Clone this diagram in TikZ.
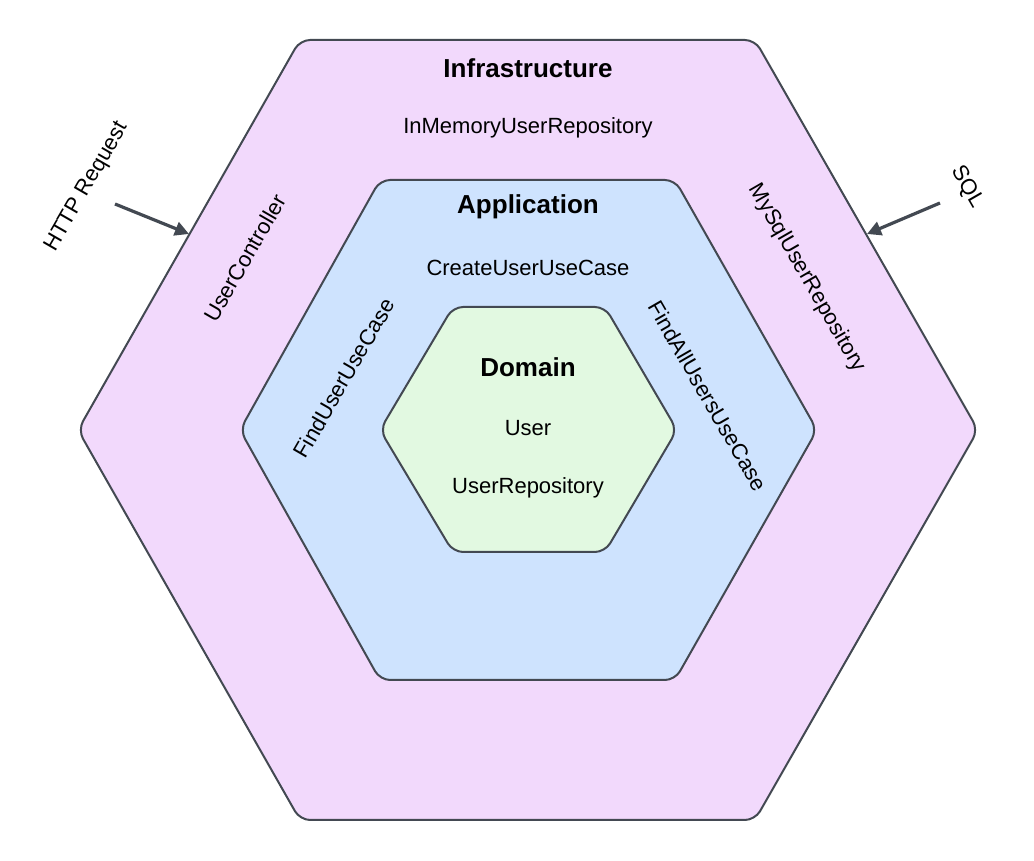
\documentclass[tikz,border=0pt]{standalone}
\usepackage{fontspec}
\setmainfont{Liberation Sans}
\usetikzlibrary{arrows.meta}
\definecolor{infra}{HTML}{F2D9FC}
\definecolor{appl}{HTML}{CEE3FE}
\definecolor{dom}{HTML}{E2F9E1}
\definecolor{edge}{HTML}{434952}
\tikzset{
  hexa/.style={draw=edge, line width=2pt, rounded corners=10pt},
  title/.style={font=\fontsize{26}{30}\selectfont\bfseries, inner sep=0pt},
  lbl/.style={font=\fontsize{22}{26}\selectfont, inner sep=0pt},
  arr/.style={draw=edge, line width=3.2pt, -{Triangle[length=14pt,width=14pt]}}
}
\begin{document}
\begin{tikzpicture}[x=1pt,y=1pt]
\useasboundingbox (0,0) rectangle (1034,861);
% hexagons
\filldraw[hexa, fill=infra] (300,821) -- (755,821) -- (978,431) -- (755,41) -- (300,41) -- (78,431) -- cycle;
\filldraw[hexa, fill=appl] (380,681) -- (675,681) -- (817,431) -- (675,181) -- (380,181) -- (240,431) -- cycle;
\filldraw[hexa, fill=dom] (453,554) -- (605,554) -- (677,431) -- (605,309) -- (453,309) -- (380,431) -- cycle;
% texts
\node[title] (infra) at (528,793) {Infrastructure};
\node[lbl] (inmem) at (528,733) {InMemoryUserRepository};
\node[title] (app) at (528,654) {Application};
\node[lbl] (create) at (528,593) {CreateUserUseCase};
\node[title] (domain) at (528,494) {Domain};
\node[lbl] (user) at (528,433) {User};
\node[lbl] (repo) at (528,373) {UserRepository};
\node[lbl, rotate=60] (ctrl) at (245,603) {UserController};
\node[lbl, rotate=60] (find) at (344,483) {FindUserUseCase};
\node[lbl, rotate=-60] (mysql) at (807,583) {MySqlUserRepository};
\node[lbl, rotate=-60] (findall) at (708,465) {FindAllUsersUseCase};
\node[lbl, rotate=60] (http) at (87,674) {HTTP Request};
\node[lbl, rotate=-60] (sql) at (967,674) {SQL};
% arrows
\coordinate (hs) at (115,657);
\coordinate (he) at (189,627);
\coordinate (ss) at (940,658);
\coordinate (se) at (867,627);
\draw[arr] (hs) -- (he);
\draw[arr] (ss) -- (se);
\end{tikzpicture}
\end{document}
